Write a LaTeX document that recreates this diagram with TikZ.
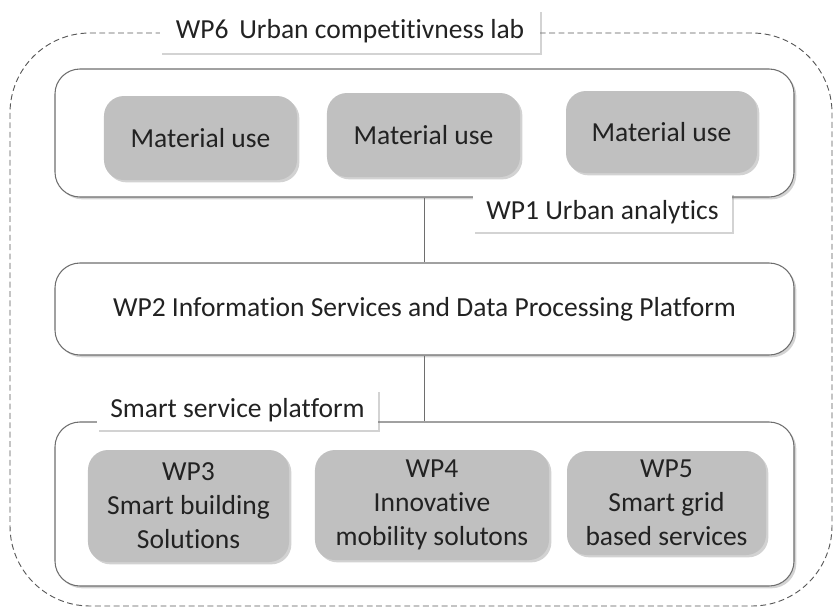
\documentclass[tikz,border=0pt]{standalone}
\usepackage{fontspec}
\setmainfont{Carlito}[Ligatures=NoCommon]
\usetikzlibrary{shadows}
\definecolor{boxgray}{HTML}{C0C0C0}
\definecolor{linegray}{HTML}{6E6E6E}
\definecolor{textgray}{HTML}{222222}
\tikzset{
  shade/.style={drop shadow={opacity=0.35, shadow xshift=2pt, shadow yshift=-2pt}},
  frame/.style={draw=linegray, fill=white, rounded corners=0.75cm, line width=0.9pt, shade},
  wpbox/.style={fill=boxgray, rounded corners=0.6cm, shade, align=center, text=textgray,
    font=\fontsize{23.5}{29}\selectfont},
  tag/.style={fill=white, shade, text=textgray, font=\fontsize{23.5}{28}\selectfont}
}
\begin{document}
\begin{tikzpicture}[x=0.03cm, y=-0.03cm]
    \useasboundingbox (0,0) rectangle (834,610);
    % outer lab frame
    \draw[black!65, dashed, dash pattern=on 5pt off 3pt, line width=0.8pt, rounded corners=2.4cm] (10,33) rectangle (832,606);
    % containers
    \node[frame, minimum width=22.17cm, minimum height=3.84cm] (analytics) at (424.5,133) {};
    \node[frame, minimum width=22.17cm, minimum height=2.76cm, text=textgray, font=\fontsize{23.5}{28}\selectfont] (wp2) at (424.5,309) {WP2 Information Services and Data Processing Platform};
    \node[frame, minimum width=22.17cm, minimum height=4.92cm] (platform) at (424.5,504) {};
    % grey work packages
    \node[wpbox, minimum width=5.79cm, minimum height=2.52cm] (mat1) at (200.5,138) {Material use};
    \node[wpbox, minimum width=5.79cm, minimum height=2.52cm] (mat2) at (423.5,135) {Material use};
    \node[wpbox, minimum width=5.73cm, minimum height=2.46cm] (mat3) at (661.5,132) {Material use};
    \node[wpbox, minimum width=6.03cm, minimum height=3.36cm] (wp3) at (188.5,506) {WP3\\Smart building\\Solutions};
    \node[wpbox, minimum width=7.02cm, minimum height=3.3cm] (wp4) at (432,505) {WP4\\Innovative\\mobility solutons};
    \node[wpbox, minimum width=5.97cm, minimum height=3.12cm] (wp5) at (666.5,503) {WP5\\Smart grid\\based services};
    % links
    \draw[linegray, line width=0.9pt] (analytics.south) -- (wp2.north);
    \draw[linegray, line width=0.9pt] (wp2.south) -- (platform.north);
    % labels
    \node[tag, minimum width=11.4cm, minimum height=1.29cm] (wp6) at (350,31.5) {WP6\, Urban competitivness lab};
    \node[tag, minimum width=7.77cm, minimum height=1.17cm] (wp1) at (602.5,212.5) {WP1 Urban analytics};
    \node[tag, minimum width=8.43cm, minimum height=1.2cm] (ssp) at (237.5,410) {Smart service platform};
\end{tikzpicture}
\end{document}
